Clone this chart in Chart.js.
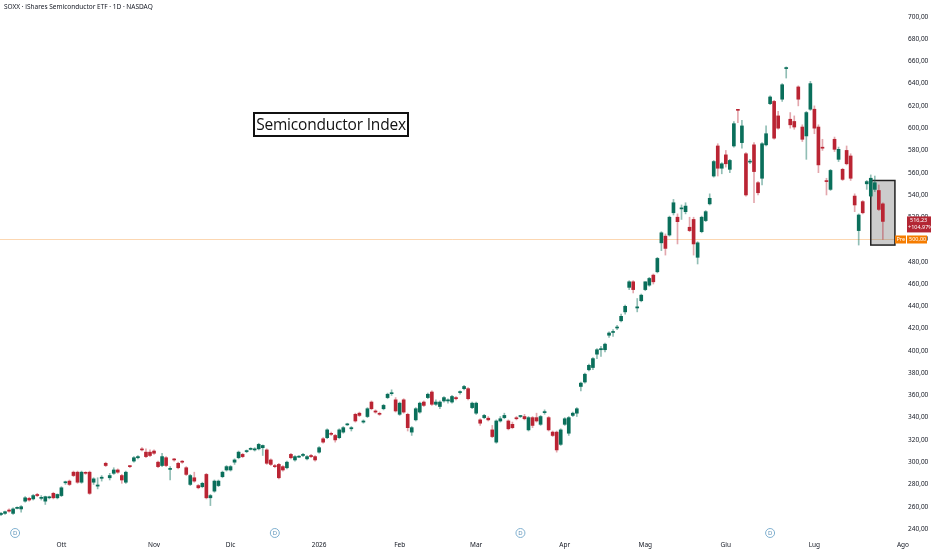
<!DOCTYPE html>
<html>
<head>
<meta charset="utf-8">
<script src="https://cdn.jsdelivr.net/npm/chart.js@4.4.1/dist/chart.umd.min.js"></script>
<style>
  html, body { margin: 0; padding: 0; background: #fff; }
  #wrap { position: relative; width: 932px; height: 550px; }
  #c { position: absolute; left: 0; top: 0; }
  #title { position: absolute; left: 4px; top: 2px; font: 6.5px "Noto Sans", sans-serif; color: #131722; white-space: nowrap; }
  #label { position: absolute; left: 253px; top: 112px; width: 152px; height: 21px; border: 2px solid #111;
           font: 15.5px "Open Sans", sans-serif; letter-spacing: -0.2px; color: #111; text-align: center;
           line-height: 21px; white-space: nowrap; }
</style>
</head>
<body>
<div id="wrap">
  <canvas id="c" width="932" height="550"></canvas>
  <div id="title">SOXX · iShares Semiconductor ETF · 1D · NASDAQ</div>
  <div id="label">Semiconductor Index</div>
</div>
<script>
// daily bars, Sep 2025 -> Jul 2026
const opens = [253,254,257,254,258.5,258,265,267.5,267,271,267.5,265,268,272,268,
  270,281.5,283,291,291,282,290.5,291,282,278.5,285.5,299,286,290,293,288,282,296.5,301,304,311.5,309,309,
  310,300,297,304,293.5,302.5,299,300.5,295,280,286,279,278,289,268,274,279,287,293,
  293,300,304,307,309.5,311.5,311,312,313,311,302,296.5,298,296,295,307,302,304.5,306,303,306,305,
  309,321,322,325.5,324,322,327,333.5,330,343,344,336,341,354,346,343.5,348,358,361.5,356,343,
  356,343,327,338,345,354,358,363,352,350,355,355,354,358,362.5,366,366,349,344,
  338,340,339.5,329,318,337,340,337,334,339.5,341,341,329,340,340,334,344.5,340,327,327,316,
  334,326,342,344,368,372,383,385,397,401,401,414,416.5,420.5,427,435,457,462,438.5,445,455,
  459,468,471,497,503,504,524,520,527.5,525,511,518,484,507,517,532,557,584,564,
  576,563,584,616.5,587,577,569.5,585,551,555,585,622,624,611,626,653.5,608,606,637,601,593,
  617,617,601,582.5,552.5,545,590,572,563,580,575,539,508,534,550,539,545,544,532];
const highs = [255,256,258,259,260,261,269,268.5,271,272,270,269.5,269.5,273,271.5,
  278,283,284,292,292,292,291.5,292,286,286,288,300,290,295,294,289,292,297,305,306,313,312,311,
  311,301,308,305,296,303.5,300,301.5,296,289,291,280,282,290,271,284,284,292,297,
  297,303,310,308,311,313,313,317,315.5,312,303,298,299,297,301,308,306,306,308,306,307,306,
  314,322,330,327,325,330,332,335,332,344,345,338,349,355,347,345,352,362,365,358,354,
  357,344,332,349,354,355,362,364,356,355,359,357,360,359,364,369,367,354,354,
  339,343,341,333,338,341,344,338,336,341,342,343,341,341,344,342,347,341,328,328,330,
  340,341,345,349,372,380,388,394,402,404,407,417,419,423,433,441,463,463,447,451,462,
  466,469,484,507,505,521,536,523,531,533,520,520,498,521,526,541,571,586,569,
  580,572,606,617,607,578,572,587,552,587,602,629,625,615,640,655,614,611,638,603,615,
  642,620,603,590,555,563,592,583,564,584,577,541,523,535,553,558,557,549,533];
const lows = [252,253,255,253,258,255,264,265,266,269,266,262,267,267,267,
  269,280,279,287,281,281,289,271,280,276,283,296,284,289,290,281,281,295,300,303,310,304,305,
  307,295,296,296,284,301,294,299,288,279,282,276,277,267,261,273,278,286,292,
  292,298,303,304,308.5,311,310,311,306,298,297,295,285,292,294,303,301,304,305,302,304,301,
  308,317,321,324,318,321,326,333,328,336,341,335,340,347,344,342,347,357,360,345,342,
  344,328,324,337,344,350,357,351,351,348,354,353,353,356,361,365,356,348,343,
  333,339,337,322,317,336,339,329,330,338,340,338,328,331,336,333,343,328,323,309,315,
  333,324,341,341,364,371,382,383,393,395,399,412,413,419,426,433,455,452,435,444,454,
  458,460,470,490,486,503,522,496,518,523,507,486,478,506,516,531,556,557,559,
  565,560,583,605,582,539,568,533,540,549,584,621,590,599,624,645,600,599,620,588,572,
  616,595,560,580,540,544,579,570,553,567,553,525,495,523,545,538,543,526,500];
const closes = [254,255.5,256,258,259,260,268,266,270,270,268,269,268.5,268,271,
  277,282,280,288,282,291,290,272,285,279.5,286.5,297,288,293,291,284,291,296,304,305,311,305,306,
  308,296,305,297,294,302,295,300,289,288,283,277,281,268,270,283,283,291,296,
  296,302,309,305,310,312,312,316,315,299,298,296,286,293,300,304,305,305,307,305,305,302,
  313,318,329,325,320,329,331,334,331,337,342,337,348,348,345,343,351,361,362,346,353,
  345,331,331,348,353,351,361,352,354,354,358,356,359,357,363,368,357,353,353,
  335,342,338,323,337,339,342,330,331,339,341,339,340,333,337,341,345,329,324,311,329,
  339,340,344,348,371,379,387,393,401,402,406,416,417,421,431,440,462,455,439.5,450,462,
  465,462,483,506,492,520,533,516,528,530,508,496,497,520,525,537,570,564,568,
  568,571,604,616,602,540,570,561,542,586,595,628,591,600,639,654,603,601,626,590,614,
  640,600,567,582,552,562,581,581,554,568,555,531,522,524,552,555,551,527,516.23];

const monthIdx = [15, 38, 57, 79, 99, 118, 140, 160, 180, 202, 224];
const monthLabels = ['Ott', 'Nov', 'Dic', '2026', 'Feb', 'Mar', 'Apr', 'Mag', 'Giu', 'Lug', 'Ago'];
const priceTicks = [240,260,280,300,320,340,360,380,400,420,440,460,480,500,520,540,560,580,600,620,640,660,680,700];
const divIdx = [3.5, 68, 129, 191];
const preMarket = 500;
const changePct = '+104,97%';
const boxRange = { x0: 216, x1: 222, y0: 495, y1: 553 };

const UP = '#0a6f5b', DOWN = '#ba2433';
const idx = opens.map((_, i) => i);
const isUp = idx.map(i => closes[i] >= opens[i]);
const fmt = v => v.toFixed(2).replace('.', ',');

const overlay = {
  id: 'overlay',
  beforeDatasetsDraw(chart) {
    const { ctx, chartArea: a, scales: { x, y } } = chart;
    ctx.save();
    // pre-market line
    const py = Math.round(y.getPixelForValue(preMarket)) + 0.5;
    ctx.strokeStyle = 'rgba(245,124,0,0.3)';
    ctx.lineWidth = 1;
    ctx.beginPath(); ctx.moveTo(a.left, py); ctx.lineTo(a.right, py); ctx.stroke();
    // grey selection box
    const bx0 = x.getPixelForValue(boxRange.x0), bx1 = x.getPixelForValue(boxRange.x1);
    const by0 = y.getPixelForValue(boxRange.y1), by1 = y.getPixelForValue(boxRange.y0);
    ctx.fillStyle = 'rgba(110,110,110,0.35)';
    ctx.fillRect(bx0, by0, bx1 - bx0, by1 - by0);
    ctx.strokeStyle = '#222';
    ctx.lineWidth = 1.5;
    ctx.strokeRect(bx0, by0, bx1 - bx0, by1 - by0);
    ctx.restore();
  },
  afterDraw(chart) {
    const { ctx, chartArea: a, scales: { x, y } } = chart;
    ctx.save();
    // dividend markers
    divIdx.forEach(d => {
      const cx = x.getPixelForValue(d), cy = a.bottom - 5;
      ctx.beginPath(); ctx.arc(cx, cy, 4.5, 0, Math.PI * 2);
      ctx.fillStyle = '#fff'; ctx.fill();
      ctx.strokeStyle = '#7fb0d0'; ctx.lineWidth = 1; ctx.stroke();
      ctx.fillStyle = '#5a8fb5'; ctx.font = '6px "Noto Sans"';
      ctx.textAlign = 'center'; ctx.textBaseline = 'middle';
      ctx.fillText('D', cx, cy + 0.5);
    });
    // last price label
    const last = closes[closes.length - 1];
    const ly = y.getPixelForValue(last);
    ctx.fillStyle = '#b32634';
    ctx.fillRect(a.right + 2, ly - 5, 24, 16);
    ctx.fillStyle = '#fff'; ctx.font = '5.5px "Noto Sans"';
    ctx.textAlign = 'left'; ctx.textBaseline = 'middle';
    ctx.fillText(fmt(last), a.right + 5, ly - 0.5);
    ctx.fillText(changePct, a.right + 3, ly + 6);
    // pre-market label
    const py = y.getPixelForValue(preMarket);
    ctx.fillStyle = '#f57c00';
    ctx.fillRect(a.right - 10, py - 4, 11, 8);
    ctx.fillRect(a.right + 2, py - 4, 20, 8);
    ctx.fillStyle = '#fff';
    ctx.fillText('Pre', a.right - 8.5, py);
    ctx.fillText(fmt(preMarket), a.right + 4, py);
    ctx.restore();
  }
};

new Chart(document.getElementById('c'), {
  type: 'bar',
  data: {
    datasets: [{
      label: 'wick',
      data: idx.map(i => ({ x: i, y: [lows[i], highs[i]] })),
      backgroundColor: idx.map(i => isUp[i] ? 'rgba(10,111,91,0.45)' : 'rgba(186,36,51,0.4)'),
      barThickness: 1,
      grouped: false,
      order: 2
    }, {
      label: 'body',
      data: idx.map(i => ({ x: i, y: [opens[i], closes[i]] })),
      backgroundColor: idx.map(i => isUp[i] ? UP : DOWN),
      barThickness: 3,
      minBarLength: 1,
      grouped: false,
      order: 1
    }]
  },
  options: {
    responsive: false,
    animation: false,
    devicePixelRatio: 1,
    layout: { padding: 0 },
    plugins: { legend: { display: false }, tooltip: { enabled: false } },
    scales: {
      x: {
        type: 'linear',
        min: -0.25,
        max: 224.5,
        offset: false,
        grid: { display: false, drawTicks: false },
        border: { display: false },
        afterBuildTicks: s => { s.ticks = monthIdx.map(v => ({ value: v })); },
        afterFit: s => { s.height = 12; },
        ticks: {
          padding: 3,
          maxRotation: 0,
          autoSkip: false,
          color: '#131722',
          font: { size: 6.5, family: 'Noto Sans' },
          callback: v => monthLabels[monthIdx.indexOf(v)]
        }
      },
      y: {
        position: 'right',
        min: 231.9,
        max: 708.9,
        grid: { display: false, drawTicks: false },
        border: { display: false },
        afterBuildTicks: s => { s.ticks = priceTicks.map(v => ({ value: v })); },
        afterFit: s => { s.width = 27; },
        ticks: {
          padding: 3,
          color: '#131722',
          font: { size: 6.5, family: 'Noto Sans' },
          callback: v => fmt(v)
        }
      }
    }
  },
  plugins: [overlay]
});
</script>
</body>
</html>
